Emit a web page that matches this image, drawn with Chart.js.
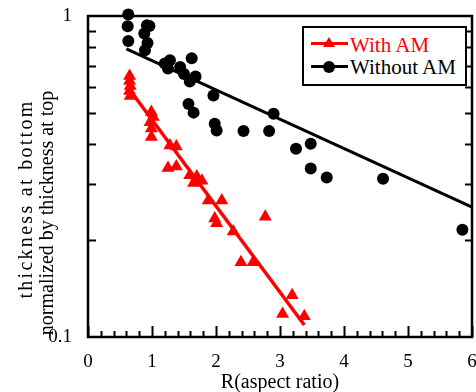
<!DOCTYPE html>
<html>
<head>
<meta charset="utf-8">
<script src="https://cdn.jsdelivr.net/npm/chart.js@4"></script>
<style>
  body { margin: 0; background: #fff; }
  #wrap { position: relative; width: 476px; height: 392px; }
  #legend { position: absolute; left: 302px; top: 26px; width: 165px; height: 60px;
    border: 2px solid #000; box-sizing: border-box; background: #fff;
    font-family: "Liberation Serif", "Times New Roman", serif; font-size: 21px; }
  #legend .ln { position: absolute; left: 6.7px; width: 37.6px; height: 3px; }
  #legend .txt { position: absolute; left: 46px; line-height: 21px; white-space: nowrap; }
  #legend .tri { position: absolute; left: 19.3px; top: 9px; width: 0; height: 0;
    border-left: 6px solid transparent; border-right: 6px solid transparent; border-bottom: 10px solid #ff0000; }
  #legend .dot { position: absolute; left: 19px; top: 32.7px; width: 12px; height: 12px; border-radius: 50%; background: #000; }
</style>
</head>
<body>
<div id="wrap">
  <canvas id="chart" width="476" height="392"></canvas>
  <div id="legend">
    <div class="ln" style="top:13.8px;background:#ff0000"></div>
    <div class="tri"></div>
    <div class="txt" style="top:6.5px;color:#ff0000">With AM</div>
    <div class="ln" style="top:37.2px;background:#000"></div>
    <div class="dot"></div>
    <div class="txt" style="top:28.5px;color:#000">Without AM</div>
  </div>
</div>
<script>
// With AM (red triangles)
const withAmR = [0.65, 0.65, 0.66, 0.65, 0.66, 0.99, 1.02, 0.97, 0.99, 0.99, 1.28, 1.38, 1.25, 1.38,
  1.59, 1.70, 1.78, 1.65, 1.88, 2.09, 1.98, 2.01, 2.27, 2.77, 2.39, 2.58, 3.19, 3.04, 3.38];
const withAmT = [0.650, 0.627, 0.605, 0.584, 0.563, 0.502, 0.485, 0.467, 0.446, 0.420, 0.395, 0.392, 0.336, 0.340,
  0.319, 0.316, 0.307, 0.302, 0.266, 0.266, 0.234, 0.226, 0.213, 0.237, 0.171, 0.171, 0.135, 0.118, 0.116];

// Without AM (black circles)
const withoutAmR = [0.63, 0.62, 0.63, 0.92, 0.96, 0.88, 0.93, 0.89, 1.20, 1.28, 1.25, 1.62, 1.44, 1.50, 1.59, 1.68,
  1.96, 1.57, 1.65, 1.98, 2.01, 2.43, 2.83, 2.90, 3.25, 3.48, 3.48, 3.73, 4.61, 5.85];
const withoutAmT = [1.01, 0.929, 0.836, 0.935, 0.930, 0.882, 0.824, 0.782, 0.711, 0.728, 0.686, 0.738, 0.694, 0.660, 0.625, 0.648,
  0.565, 0.532, 0.500, 0.462, 0.440, 0.438, 0.438, 0.496, 0.386, 0.400, 0.335, 0.314, 0.311, 0.216];

// fitted lines (end points)
const fitWithR = [0.66, 3.38];
const fitWithT = [0.586, 0.109];
const fitWithoutR = [0.6, 6];
const fitWithoutT = [0.79, 0.254];

// axis ticks and titles
const xTickLabels = [0, 1, 2, 3, 4, 5, 6];
const xMinorStep = 0.2;
const yTickLabels = [0.1, 1];
const yMinorTicks = [0.2, 0.3, 0.4, 0.5, 0.6, 0.7, 0.8, 0.9];
const yTitleLines = ["thickness at bottom", "normalized by thickness at top"];

const pts = (xs, ys) => xs.map((x, i) => ({ x: x, y: ys[i] }));
const serif = "'Liberation Serif', 'Times New Roman', serif";

// frame, inward ticks and the y title
const frameTicks = {
  id: "frameTicks",
  beforeDatasetsDraw(chart) {
    const { ctx, chartArea: a, scales: { x, y } } = chart;
    ctx.save();
    ctx.strokeStyle = "#000";
    ctx.lineWidth = 2;
    ctx.beginPath();
    for (let v = 0; v <= 6.001; v += xMinorStep) {
      const px = Math.round(x.getPixelForValue(v)) + 0.5;
      const major = Math.abs(v - Math.round(v)) < 0.01;
      ctx.moveTo(px, a.bottom);
      ctx.lineTo(px, a.bottom - (major ? 11 : 6));
    }
    yMinorTicks.forEach(v => {
      const py = Math.round(y.getPixelForValue(v)) + 0.5;
      ctx.moveTo(a.left, py);
      ctx.lineTo(a.left + 8, py);
      ctx.moveTo(a.right, py);
      ctx.lineTo(a.right - 7, py);
    });
    ctx.stroke();
    ctx.lineWidth = 2.5;
    ctx.strokeRect(a.left, a.top, a.right - a.left, a.bottom - a.top);

    ctx.fillStyle = "#000";
    ctx.font = "20px " + serif;
    ctx.textAlign = "center";
    ctx.textBaseline = "middle";
    const centers = [199, 213];
    const spacing = ["2.3px", "0px"];
    yTitleLines.forEach((t, i) => {
      ctx.save();
      ctx.letterSpacing = spacing[i];
      ctx.translate(27 + i * 21, centers[i]);
      ctx.rotate(-Math.PI / 2);
      ctx.fillText(t, 0, 0);
      ctx.restore();
    });
    ctx.restore();
  },
};

const ctx = document.getElementById("chart").getContext("2d");
new Chart(ctx, {
  type: "scatter",
  data: {
    datasets: [
      {
        label: "With AM fit",
        data: pts(fitWithR, fitWithT),
        showLine: true,
        borderColor: "#ff0000",
        borderWidth: 3.5,
        pointRadius: 0,
        clip: false,
      },
      {
        label: "Without AM fit",
        data: pts(fitWithoutR, fitWithoutT),
        showLine: true,
        borderColor: "#000",
        borderWidth: 3,
        pointRadius: 0,
        clip: false,
      },
      {
        label: "With AM",
        data: pts(withAmR, withAmT),
        pointStyle: "triangle",
        pointRadius: 7.5,
        backgroundColor: "#ff0000",
        borderWidth: 0,
        clip: false,
      },
      {
        label: "Without AM",
        data: pts(withoutAmR, withoutAmT),
        pointStyle: "circle",
        pointRadius: 6,
        backgroundColor: "#000",
        borderWidth: 0,
        clip: false,
      },
    ],
  },
  options: {
    responsive: false,
    animation: false,
    layout: { autoPadding: false, padding: { top: 16, right: 4, left: 0, bottom: 0 } },
    plugins: {
      legend: { display: false },
      tooltip: { enabled: false },
    },
    scales: {
      x: {
        type: "linear",
        min: 0,
        max: 6,
        grid: { display: false },
        border: { display: false },
        afterBuildTicks: (s) => { s.ticks = xTickLabels.map(v => ({ value: v })); },
        ticks: { color: "#000", font: { family: serif, size: 19, lineHeight: 1.05 }, padding: 7, maxRotation: 0 },
        title: {
          display: true,
          text: "R(aspect ratio)",
          color: "#000",
          font: { family: serif, size: 20, lineHeight: 1 },
          padding: { top: 0, bottom: -1 },
        },
        afterFit: (s) => { s.height = 55; s.paddingLeft = 0; s.paddingRight = 0; },
      },
      y: {
        type: "logarithmic",
        min: 0.1,
        max: 1,
        grid: { display: false },
        border: { display: false },
        afterBuildTicks: (s) => { s.ticks = yTickLabels.map(v => ({ value: v })); },
        ticks: { color: "#000", font: { family: serif, size: 19 }, padding: 8, callback: (v) => String(v) },
        afterFit: (s) => { s.width = 88; s.paddingTop = 0; s.paddingBottom = 0; },
      },
    },
  },
  plugins: [frameTicks],
});
</script>
</body>
</html>
